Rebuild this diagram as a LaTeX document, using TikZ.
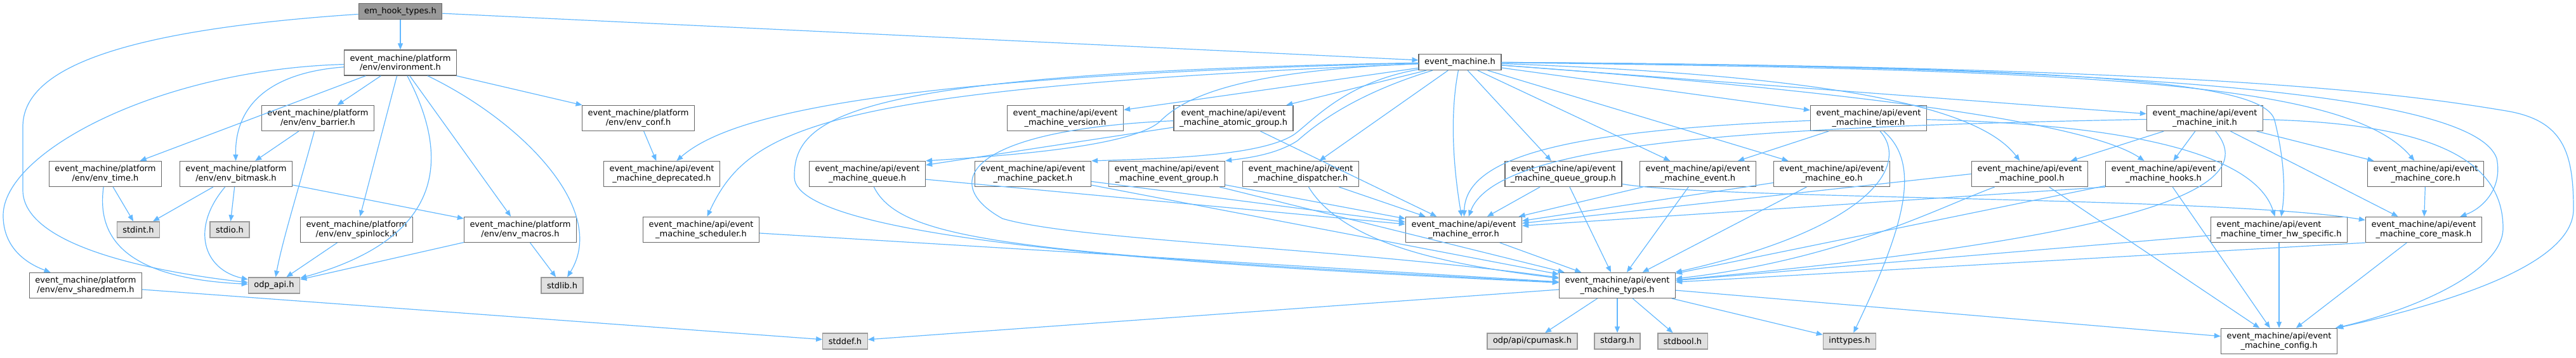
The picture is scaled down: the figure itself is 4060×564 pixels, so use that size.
\documentclass[tikz,border=0pt]{standalone}
\usepackage{fontspec}
\setmainfont{DejaVu Sans}
\usetikzlibrary{arrows.meta}
\definecolor{edgeblue}{HTML}{63B8FF}
\definecolor{boxline}{HTML}{666666}
\definecolor{sysfill}{HTML}{E0E0E0}
\definecolor{sysline}{HTML}{999999}
\definecolor{rootfill}{HTML}{999999}
\tikzset{
  hdr/.style={draw=boxline, fill=white, line width=0.65pt, align=center,
    font=\fontsize{6.5}{7.2}\selectfont, inner xsep=4.5pt, inner ysep=0pt,
    minimum height=20pt},
  hdrone/.style={hdr, minimum height=12.5pt},
  syshdr/.style={hdrone, draw=sysline, fill=sysfill},
  roothdr/.style={hdrone, fill=rootfill},
  dep/.style={draw=edgeblue, line width=0.6pt, -{Triangle[length=5pt,width=4pt]}}
}
\begin{document}
\begin{tikzpicture}[x=0.5pt, y=-0.5pt]
  \useasboundingbox (0,0) rectangle (4060,564);
  % top
  \node[roothdr] (root) at (631,18) {em\_hook\_types.h};
  \node[hdr] (envir) at (631,99) {event\_machine/platform\\/env/environment.h};
  \node[hdrone] (emh) at (2301,98) {event\_machine.h};
  % row 3
  \node[hdr] (barrier) at (501,186.5) {event\_machine/platform\\/env/env\_barrier.h};
  \node[hdr] (conf) at (1006,186.5) {event\_machine/platform\\/env/env\_conf.h};
  \node[hdr] (version) at (1679,186.5) {event\_machine/api/event\\\_machine\_version.h};
  \node[hdr] (atomic) at (1944,186.5) {event\_machine/api/event\\\_machine\_atomic\_group.h};
  \node[hdr] (timer) at (2945,186.5) {event\_machine/api/event\\\_machine\_timer.h};
  \node[hdr] (init) at (3475,186.5) {event\_machine/api/event\\\_machine\_init.h};
  % row 4
  \node[hdr] (time) at (166,274.5) {event\_machine/platform\\/env/env\_time.h};
  \node[hdr] (bitmask) at (372,274.5) {event\_machine/platform\\/env/env\_bitmask.h};
  \node[hdr] (deprecated) at (1043,274.5) {event\_machine/api/event\\\_machine\_deprecated.h};
  \node[hdr] (queue) at (1367,274.5) {event\_machine/api/event\\\_machine\_queue.h};
  \node[hdr] (packet) at (1628,274.5) {event\_machine/api/event\\\_machine\_packet.h};
  \node[hdr] (evgroup) at (1839,274.5) {event\_machine/api/event\\\_machine\_event\_group.h};
  \node[hdr] (dispatcher) at (2050,274.5) {event\_machine/api/event\\\_machine\_dispatcher.h};
  \node[hdr] (qgroup) at (2464,274.5) {event\_machine/api/event\\\_machine\_queue\_group.h};
  \node[hdr] (event) at (2676,274.5) {event\_machine/api/event\\\_machine\_event.h};
  \node[hdr] (eo) at (2887,274.5) {event\_machine/api/event\\\_machine\_eo.h};
  \node[hdr] (pool) at (3199,274.5) {event\_machine/api/event\\\_machine\_pool.h};
  \node[hdr] (hooks) at (3410,274.5) {event\_machine/api/event\\\_machine\_hooks.h};
  \node[hdr] (core) at (3823,274.5) {event\_machine/api/event\\\_machine\_core.h};
  % row 5
  \node[syshdr] (stdint) at (218,362.4) {stdint.h};
  \node[syshdr] (stdio) at (362,362.4) {stdio.h};
  \node[hdr] (spinlock) at (562,362.4) {event\_machine/platform\\/env/env\_spinlock.h};
  \node[hdr] (macros) at (820,362.4) {event\_machine/platform\\/env/env\_macros.h};
  \node[hdr] (scheduler) at (1105,362.4) {event\_machine/api/event\\\_machine\_scheduler.h};
  \node[hdr] (error) at (2307,362.4) {event\_machine/api/event\\\_machine\_error.h};
  \node[hdr, align=left] (tmrhw) at (3592,362.4) {event\_machine/api/event\\\_machine\_timer\_hw\_specific.h};
  \node[hdr] (coremask) at (3820,362.4) {event\_machine/api/event\\\_machine\_core\_mask.h};
  % row 6
  \node[hdr] (sharedmem) at (135,450.4) {event\_machine/platform\\/env/env\_sharedmem.h};
  \node[syshdr] (odp) at (432,450.4) {odp\_api.h};
  \node[syshdr] (stdlib) at (886,450.4) {stdlib.h};
  \node[hdr] (types) at (2549,450.4) {event\_machine/api/event\\\_machine\_types.h};
  % row 7
  \node[syshdr] (stddef) at (1332,538.4) {stddef.h};
  \node[syshdr] (cpumask) at (2415,538.4) {odp/api/cpumask.h};
  \node[syshdr] (stdarg) at (2549,538.4) {stdarg.h};
  \node[syshdr] (stdbool) at (2652,538.4) {stdbool.h};
  \node[syshdr] (inttypes) at (2915,538.4) {inttypes.h};
  \node[hdr] (config) at (3592,538.4) {event\_machine/api/event\\\_machine\_config.h};

  % em_hook_types.h
  \draw[dep] (root) -- (envir);
  \draw[dep] (root) -- (emh);
  \draw[dep] (root) .. controls (150,50) and (36,120) .. (36,200) -- (36,300)
    .. controls (36,390) and (250,430) .. (odp);
  % environment.h
  \draw[dep] (envir) -- (barrier);
  \draw[dep] (envir) -- (time);
  \draw[dep] (envir) .. controls (420,115) and (370,170) .. (bitmask);
  \draw[dep] (envir) .. controls (250,110) and (5,240) .. (5,340)
    .. controls (5,390) and (40,415) .. (sharedmem);
  \draw[dep] (envir) -- (spinlock);
  \draw[dep] (envir) .. controls (700,230) and (720,370) .. (odp);
  \draw[dep] (envir) -- (macros);
  \draw[dep] (envir) .. controls (820,190) and (960,330) .. (stdlib);
  \draw[dep] (envir) -- (conf);
  % platform headers
  \draw[dep] (barrier) -- (bitmask);
  \draw[dep] (barrier) .. controls (470,300) and (445,380) .. (odp);
  \draw[dep] (time) -- (stdint);
  \draw[dep] (time) .. controls (150,390) and (220,440) .. (odp);
  \draw[dep] (bitmask) -- (stdint);
  \draw[dep] (bitmask) -- (stdio);
  \draw[dep] (bitmask) .. controls (300,360) and (320,425) .. (odp);
  \draw[dep] (bitmask) -- (macros);
  \draw[dep] (spinlock) -- (odp);
  \draw[dep] (macros) -- (odp);
  \draw[dep] (macros) -- (stdlib);
  \draw[dep] (sharedmem) -- (stddef);
  \draw[dep] (conf) -- (deprecated);
  % event_machine.h
  \draw[dep] (emh) .. controls (1400,120) and (1150,180) .. (deprecated);
  \draw[dep] (emh) .. controls (1300,140) and (1180,200) .. (scheduler);
  \draw[dep] (emh) .. controls (1350,115) and (1250,180) .. (1252,280)
    .. controls (1254,380) and (1900,420) .. (types);
  \draw[dep] (emh) -- (version);
  \draw[dep] (emh) -- (atomic);
  \draw[dep] (emh) .. controls (2000,110) and (1880,140) .. (1830,190)
    .. controls (1790,230) and (1600,245) .. (queue.north east);
  \draw[dep] (emh) .. controls (2120,130) and (2070,190) .. (2040,212)
    .. controls (1990,245) and (1850,250) .. (packet.north east);
  \draw[dep] (emh) .. controls (2130,150) and (2070,200) .. (2045,222)
    .. controls (2010,245) and (1960,250) .. (evgroup.north east);
  \draw[dep] (emh) -- (dispatcher);
  \draw[dep] (emh) .. controls (2285,180) and (2290,260) .. (error);
  \draw[dep] (emh) -- (qgroup);
  \draw[dep] (emh) -- (event);
  \draw[dep] (emh) -- (eo);
  \draw[dep] (emh) -- (timer);
  \draw[dep] (emh) .. controls (2900,120) and (3120,170) .. (pool);
  \draw[dep] (emh) -- (init);
  \draw[dep] (emh) .. controls (3000,150) and (3300,200) .. (hooks);
  \draw[dep] (emh) .. controls (3300,105) and (3570,130) .. (3585,190)
    .. controls (3600,250) and (3602,300) .. (tmrhw);
  \draw[dep] (emh) .. controls (3300,110) and (3700,130) .. (core);
  \draw[dep] (emh) .. controls (3400,105) and (3900,150) .. (3935,250)
    .. controls (3945,300) and (3910,330) .. (coremask);
  \draw[dep] (emh) .. controls (3500,105) and (3800,150) .. (3950,175)
    .. controls (4040,190) and (4056,240) .. (4056,330)
    .. controls (4056,420) and (3850,480) .. (config);
  % api headers
  \draw[dep] (atomic) -- (queue);
  \draw[dep] (atomic) -- (error);
  \draw[dep] (atomic) .. controls (1520,205) and (1480,290) .. (1580,345)
    .. controls (1700,380) and (2100,390) .. (types);
  \draw[dep] (queue) -- (error);
  \draw[dep] (queue) .. controls (1420,380) and (1600,400) .. (types);
  \draw[dep] (packet) -- (error);
  \draw[dep] (packet) -- (types);
  \draw[dep] (evgroup) -- (error);
  \draw[dep] (evgroup) -- (types);
  \draw[dep] (dispatcher) -- (error);
  \draw[dep] (dispatcher) .. controls (2120,390) and (2300,420) .. (types);
  \draw[dep] (scheduler) -- (types);
  \draw[dep] (qgroup) -- (error);
  \draw[dep] (qgroup) -- (types);
  \draw[dep] (qgroup) .. controls (2700,315) and (3500,310) .. (coremask);
  \draw[dep] (event) -- (error);
  \draw[dep] (event) -- (types);
  \draw[dep] (eo) -- (error);
  \draw[dep] (eo) -- (types);
  \draw[dep] (timer) -- (event);
  \draw[dep] (timer) .. controls (2500,205) and (2310,240) .. (error);
  \draw[dep] (timer) .. controls (3010,260) and (2950,360) .. (types);
  \draw[dep] (timer) .. controls (3030,260) and (3000,360) .. (inttypes);
  \draw[dep] (timer) .. controls (3300,195) and (3550,230) .. (tmrhw);
  \draw[dep] (init) .. controls (2800,200) and (2360,220) .. (error);
  \draw[dep] (init) -- (pool);
  \draw[dep] (init) -- (hooks);
  \draw[dep] (init) -- (core);
  \draw[dep] (init) -- (coremask);
  \draw[dep] (init) .. controls (3560,290) and (3420,370) .. (types);
  \draw[dep] (init) .. controls (3850,195) and (3945,260) .. (3945,360)
    .. controls (3945,430) and (3800,490) .. (config);
  \draw[dep] (pool.west) -- (error);
  \draw[dep] (pool) .. controls (3050,330) and (2900,410) .. (types);
  \draw[dep] (pool) -- (config);
  \draw[dep] (hooks.south west) -- (error);
  \draw[dep] (hooks) -- (types);
  \draw[dep] (hooks) -- (config);
  \draw[dep] (core) -- (coremask);
  \draw[dep] (tmrhw) -- (types);
  \draw[dep] (tmrhw) -- (config);
  \draw[dep] (coremask.south west) -- (types);
  \draw[dep] (coremask) -- (config);
  \draw[dep] (error) -- (types);
  % event_machine_types.h
  \draw[dep] (types) -- (stddef);
  \draw[dep] (types) -- (cpumask);
  \draw[dep] (types) -- (stdarg);
  \draw[dep] (types) -- (stdbool);
  \draw[dep] (types) -- (inttypes);
  \draw[dep] (types) -- (config);
\end{tikzpicture}
\end{document}
